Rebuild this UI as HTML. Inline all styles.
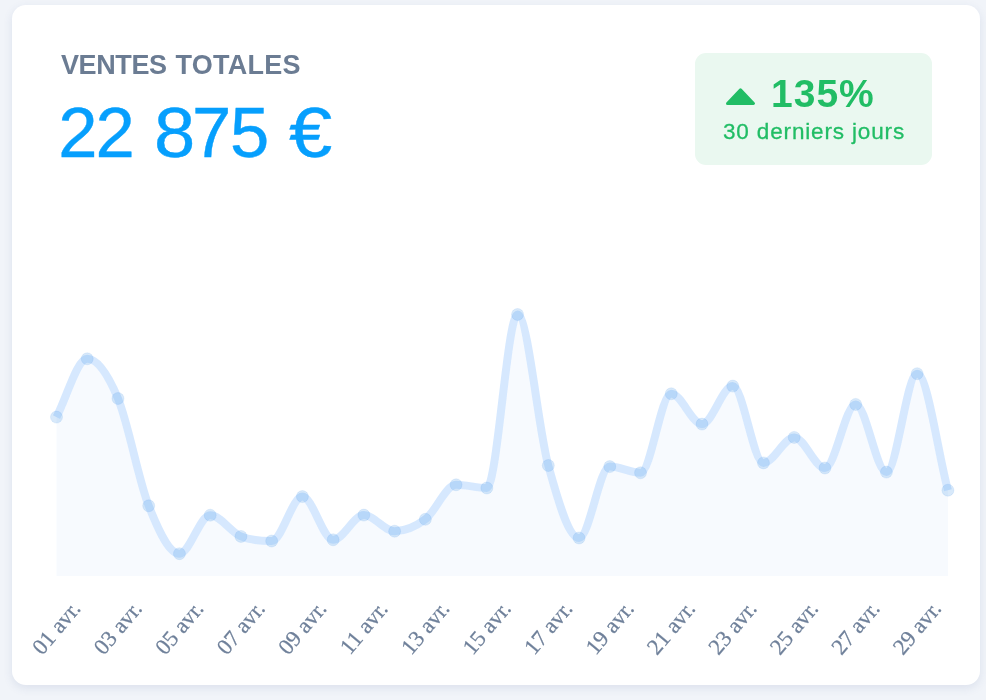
<!DOCTYPE html>
<html lang="fr"><head><meta charset="utf-8"><title>Ventes totales</title>
<style>
html,body{margin:0;padding:0}
body{width:986px;height:700px;overflow:hidden;background:#f1f4f9;font-family:"Liberation Sans",sans-serif;position:relative}
.card{position:absolute;left:12px;top:5px;width:968px;height:680px;background:#fff;border-radius:14px;box-shadow:0 3px 10px rgba(50,80,145,0.115)}
.title{position:absolute;left:61px;top:52px;font-size:27px;font-weight:bold;color:#6b7c93;letter-spacing:-0.4px;line-height:1;white-space:nowrap;will-change:transform}
.amount{position:absolute;left:61px;top:98px;font-size:70.6px;color:#069ffd;letter-spacing:0px;line-height:1;white-space:nowrap;will-change:transform;-webkit-text-stroke:0.4px #069ffd;}
.badge{position:absolute;left:695px;top:53px;width:237px;height:112px;border-radius:11px;background:#eaf8f0;color:#21bd65}
.badge .pct{position:absolute;left:76px;top:21.4px;font-size:39px;font-weight:bold;letter-spacing:1px;line-height:1;white-space:nowrap}
.badge .sub{-webkit-text-stroke:0.3px #21bd65;position:absolute;left:28px;top:68px;font-size:22.5px;letter-spacing:0.85px;line-height:1;white-space:nowrap}
.badge .pct,.badge .sub{will-change:transform}
.badge svg{position:absolute;left:0;top:0}
svg.chart{position:absolute;left:0;top:0;will-change:transform}
svg.chart text{font-family:"Liberation Serif",serif;font-size:22.5px;fill:#6f809a;stroke:#6f809a;stroke-width:0.25px;text-anchor:middle;dominant-baseline:central}
</style></head>
<body>
<div class="card"></div>
<div class="title">VENTES<span style="margin-left:8.8px;letter-spacing:0.25px">TOTALES</span></div>
<div class="amount"><span style="position:relative;left:-2.7px">2</span><span style="position:relative;left:-4.7px">2</span> <span style="display:inline-block;position:relative;left:-4.4px;transform:scaleX(1.05);transform-origin:50% 50%">8</span><span style="position:relative;left:-6.4px">7</span><span style="position:relative;left:-7.7px">5</span> <span style="display:inline-block;position:relative;left:-5.7px;transform:scaleX(1.1);transform-origin:50% 50%">€</span></div>
<div class="badge">
<svg width="237" height="112" viewBox="0 0 237 112"><path d="M32.5 50.5 L45.5 36.9 L58.5 50.5 Z" fill="#21bd65" stroke="#21bd65" stroke-width="3" stroke-linejoin="round"/></svg>
<div class="pct">135%</div>
<div class="sub">30 derniers jours</div>
</div>
<svg class="chart" width="986" height="700" viewBox="0 0 986 700">
<g>
<path d="M56.5 417.1 C66.75 397.67 76.99 358.8 87.24 358.8 C97.48 358.8 107.73 374 117.98 398.5 C128.22 423 138.47 479.93 148.71 505.8 C158.96 531.67 169.21 553.7 179.45 553.7 C189.7 553.7 199.94 515.2 210.19 515.2 C220.44 515.2 230.68 532.1 240.93 536.4 C251.17 540.7 261.42 541 271.67 541 C281.91 541 292.16 496.6 302.4 496.6 C312.65 496.6 322.9 539.8 333.14 539.8 C343.39 539.8 353.63 515.1 363.88 515.1 C374.13 515.1 384.37 531.2 394.62 531.2 C404.86 531.2 415.11 527.03 425.36 519.3 C435.6 511.57 445.85 484.8 456.09 484.8 C466.34 484.8 476.59 488 486.83 488 C497.08 488 507.32 314.5 517.57 314.5 C527.81 314.5 538.06 428.25 548.31 465.5 C558.55 502.75 568.8 538 579.04 538 C589.29 538 599.54 466.6 609.78 466.6 C620.03 466.6 630.27 472.8 640.52 472.8 C650.77 472.8 661.01 393.8 671.26 393.8 C681.5 393.8 691.75 424.1 702 424.1 C712.24 424.1 722.49 386.1 732.73 386.1 C742.98 386.1 753.23 462.9 763.47 462.9 C773.72 462.9 783.96 437.4 794.21 437.4 C804.46 437.4 814.7 468 824.95 468 C835.19 468 845.44 404.4 855.69 404.4 C865.93 404.4 876.18 472.1 886.42 472.1 C896.67 472.1 906.92 373.7 917.16 373.7 C927.41 373.7 937.65 451.37 947.9 490.2 L947.9 576 L56.5 576 Z" fill="rgba(30,120,240,0.035)"/>
<path d="M56.5 417.1 C66.75 397.67 76.99 358.8 87.24 358.8 C97.48 358.8 107.73 374 117.98 398.5 C128.22 423 138.47 479.93 148.71 505.8 C158.96 531.67 169.21 553.7 179.45 553.7 C189.7 553.7 199.94 515.2 210.19 515.2 C220.44 515.2 230.68 532.1 240.93 536.4 C251.17 540.7 261.42 541 271.67 541 C281.91 541 292.16 496.6 302.4 496.6 C312.65 496.6 322.9 539.8 333.14 539.8 C343.39 539.8 353.63 515.1 363.88 515.1 C374.13 515.1 384.37 531.2 394.62 531.2 C404.86 531.2 415.11 527.03 425.36 519.3 C435.6 511.57 445.85 484.8 456.09 484.8 C466.34 484.8 476.59 488 486.83 488 C497.08 488 507.32 314.5 517.57 314.5 C527.81 314.5 538.06 428.25 548.31 465.5 C558.55 502.75 568.8 538 579.04 538 C589.29 538 599.54 466.6 609.78 466.6 C620.03 466.6 630.27 472.8 640.52 472.8 C650.77 472.8 661.01 393.8 671.26 393.8 C681.5 393.8 691.75 424.1 702 424.1 C712.24 424.1 722.49 386.1 732.73 386.1 C742.98 386.1 753.23 462.9 763.47 462.9 C773.72 462.9 783.96 437.4 794.21 437.4 C804.46 437.4 814.7 468 824.95 468 C835.19 468 845.44 404.4 855.69 404.4 C865.93 404.4 876.18 472.1 886.42 472.1 C896.67 472.1 906.92 373.7 917.16 373.7 C927.41 373.7 937.65 451.37 947.9 490.2" fill="none" stroke="#fff" stroke-width="8" stroke-linejoin="round"/>
<path d="M56.5 417.1 C66.75 397.67 76.99 358.8 87.24 358.8 C97.48 358.8 107.73 374 117.98 398.5 C128.22 423 138.47 479.93 148.71 505.8 C158.96 531.67 169.21 553.7 179.45 553.7 C189.7 553.7 199.94 515.2 210.19 515.2 C220.44 515.2 230.68 532.1 240.93 536.4 C251.17 540.7 261.42 541 271.67 541 C281.91 541 292.16 496.6 302.4 496.6 C312.65 496.6 322.9 539.8 333.14 539.8 C343.39 539.8 353.63 515.1 363.88 515.1 C374.13 515.1 384.37 531.2 394.62 531.2 C404.86 531.2 415.11 527.03 425.36 519.3 C435.6 511.57 445.85 484.8 456.09 484.8 C466.34 484.8 476.59 488 486.83 488 C497.08 488 507.32 314.5 517.57 314.5 C527.81 314.5 538.06 428.25 548.31 465.5 C558.55 502.75 568.8 538 579.04 538 C589.29 538 599.54 466.6 609.78 466.6 C620.03 466.6 630.27 472.8 640.52 472.8 C650.77 472.8 661.01 393.8 671.26 393.8 C681.5 393.8 691.75 424.1 702 424.1 C712.24 424.1 722.49 386.1 732.73 386.1 C742.98 386.1 753.23 462.9 763.47 462.9 C773.72 462.9 783.96 437.4 794.21 437.4 C804.46 437.4 814.7 468 824.95 468 C835.19 468 845.44 404.4 855.69 404.4 C865.93 404.4 876.18 472.1 886.42 472.1 C896.67 472.1 906.92 373.7 917.16 373.7 C927.41 373.7 937.65 451.37 947.9 490.2" fill="none" stroke="rgba(35,128,250,0.185)" stroke-width="8" stroke-linejoin="round" stroke-linecap="butt"/>
</g>
<g fill="rgba(70,150,230,0.21)" stroke="rgba(70,150,230,0.12)" stroke-width="1"><circle cx="56.5" cy="417.1" r="6.0"/><circle cx="87.24" cy="358.8" r="6.0"/><circle cx="117.98" cy="398.5" r="6.0"/><circle cx="148.71" cy="505.8" r="6.0"/><circle cx="179.45" cy="553.7" r="6.0"/><circle cx="210.19" cy="515.2" r="6.0"/><circle cx="240.93" cy="536.4" r="6.0"/><circle cx="271.67" cy="541" r="6.0"/><circle cx="302.4" cy="496.6" r="6.0"/><circle cx="333.14" cy="539.8" r="6.0"/><circle cx="363.88" cy="515.1" r="6.0"/><circle cx="394.62" cy="531.2" r="6.0"/><circle cx="425.36" cy="519.3" r="6.0"/><circle cx="456.09" cy="484.8" r="6.0"/><circle cx="486.83" cy="488" r="6.0"/><circle cx="517.57" cy="314.5" r="6.0"/><circle cx="548.31" cy="465.5" r="6.0"/><circle cx="579.04" cy="538" r="6.0"/><circle cx="609.78" cy="466.6" r="6.0"/><circle cx="640.52" cy="472.8" r="6.0"/><circle cx="671.26" cy="393.8" r="6.0"/><circle cx="702" cy="424.1" r="6.0"/><circle cx="732.73" cy="386.1" r="6.0"/><circle cx="763.47" cy="462.9" r="6.0"/><circle cx="794.21" cy="437.4" r="6.0"/><circle cx="824.95" cy="468" r="6.0"/><circle cx="855.69" cy="404.4" r="6.0"/><circle cx="886.42" cy="472.1" r="6.0"/><circle cx="917.16" cy="373.7" r="6.0"/><circle cx="947.9" cy="490.2" r="6.0"/></g>
<g><text x="56.3" y="627.8" transform="rotate(-50 56.3 627.8)">01 avr.</text><text x="117.78" y="627.8" transform="rotate(-50 117.78 627.8)">03 avr.</text><text x="179.25" y="627.8" transform="rotate(-50 179.25 627.8)">05 avr.</text><text x="240.73" y="627.8" transform="rotate(-50 240.73 627.8)">07 avr.</text><text x="302.2" y="627.8" transform="rotate(-50 302.2 627.8)">09 avr.</text><text x="363.68" y="627.8" transform="rotate(-50 363.68 627.8)">11 avr.</text><text x="425.16" y="627.8" transform="rotate(-50 425.16 627.8)">13 avr.</text><text x="486.63" y="627.8" transform="rotate(-50 486.63 627.8)">15 avr.</text><text x="548.11" y="627.8" transform="rotate(-50 548.11 627.8)">17 avr.</text><text x="609.58" y="627.8" transform="rotate(-50 609.58 627.8)">19 avr.</text><text x="671.06" y="627.8" transform="rotate(-50 671.06 627.8)">21 avr.</text><text x="732.53" y="627.8" transform="rotate(-50 732.53 627.8)">23 avr.</text><text x="794.01" y="627.8" transform="rotate(-50 794.01 627.8)">25 avr.</text><text x="855.49" y="627.8" transform="rotate(-50 855.49 627.8)">27 avr.</text><text x="916.96" y="627.8" transform="rotate(-50 916.96 627.8)">29 avr.</text></g>
</svg>
</body></html>
